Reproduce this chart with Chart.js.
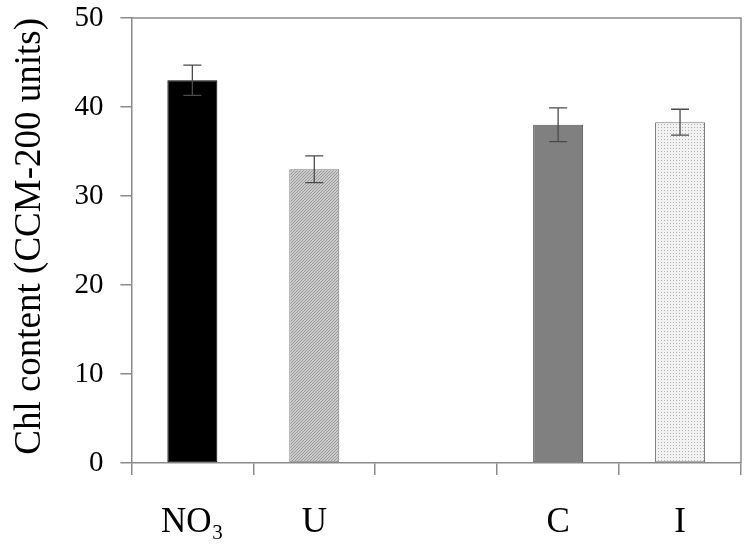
<!DOCTYPE html>
<html>
<head>
<meta charset="utf-8">
<script src="https://cdn.jsdelivr.net/npm/chart.js@4/dist/chart.umd.min.js"></script>
<style>
  html, body { margin: 0; padding: 0; background: #fff; }
  #chart { display: block; }
</style>
</head>
<body>
<canvas id="chart" width="746" height="553"></canvas>
<script>
// data
const categories = ['NO\u2083', 'U', '', 'C', 'I'];
const chlValues = [43.0, 33.0, null, 38.0, 38.3];
const chlErrors = [1.7, 1.5, null, 1.9, 1.45];
const yTicks = [0, 10, 20, 30, 40, 50];

const serif = '"Liberation Serif", "Times New Roman", serif';
const lineGray = '#8a8a8a';

// small tile patterns for the hatched / dotted bars
function makePattern(bg, fg, size, cells) {
    const c = document.createElement('canvas');
    c.width = size;
    c.height = size;
    const g = c.getContext('2d');
    g.fillStyle = bg;
    g.fillRect(0, 0, size, size);
    g.fillStyle = fg;
    cells.forEach(([x, y]) => g.fillRect(x, y, 1, 1));
    return g.createPattern(c, 'repeat');
}

const ctx = document.getElementById('chart').getContext('2d');
const hatch = makePattern('#cacaca', '#9a9a9a', 3, [[0, 2], [1, 1], [2, 0]]);
const dots = makePattern('#f2f2f2', '#b0b0b0', 3, [[1, 1]]);

// error bars, drawn through the y scale
const errorBars = {
    id: 'errorBars',
    afterDatasetsDraw(chart) {
        const meta = chart.getDatasetMeta(0);
        const y = chart.scales.y;
        const c = chart.ctx;
        c.save();
        c.strokeStyle = '#4a4a4a';
        c.lineWidth = 1.3;
        meta.data.forEach((bar, i) => {
            const v = chlValues[i];
            const e = chlErrors[i];
            if (v == null || e == null) return;
            const top = y.getPixelForValue(v + e);
            const bot = y.getPixelForValue(v - e);
            const half = 9;
            c.beginPath();
            c.moveTo(bar.x, top);
            c.lineTo(bar.x, bot);
            c.moveTo(bar.x - half, top);
            c.lineTo(bar.x + half, top);
            c.moveTo(bar.x - half, bot);
            c.lineTo(bar.x + half, bot);
            c.stroke();
        });
        c.restore();
    }
};

// top and right sides of the frame
const frame = {
    id: 'frame',
    beforeDatasetsDraw(chart) {
        const a = chart.chartArea;
        const c = chart.ctx;
        c.save();
        c.strokeStyle = lineGray;
        c.lineWidth = 1.5;
        c.beginPath();
        c.moveTo(a.left, a.top);
        c.lineTo(a.right, a.top);
        c.lineTo(a.right, a.bottom);
        c.stroke();
        c.restore();
    }
};

new Chart(ctx, {
    type: 'bar',
    data: {
        labels: categories,
        datasets: [{
            data: chlValues,
            backgroundColor: ['#000000', hatch, '#fff', '#808080', dots],
            borderColor: ['#000000', '#777', '#fff', '#555', '#777'],
            borderWidth: 1,
            borderSkipped: false,
            categoryPercentage: 1,
            barPercentage: 0.41
        }]
    },
    options: {
        responsive: false,
        animation: false,
        layout: { padding: { top: 18, right: 5, bottom: -18, left: 0 } },
        plugins: {
            legend: { display: false },
            tooltip: { enabled: false }
        },
        scales: {
            x: {
                grid: {
                    offset: true,
                    drawOnChartArea: false,
                    tickLength: 12,
                    color: lineGray,
                    lineWidth: 1.5
                },
                border: { color: lineGray, width: 1.5 },
                ticks: {
                    color: '#000',
                    padding: 27,
                    maxRotation: 0,
                    font: { family: serif, size: 35 }
                }
            },
            y: {
                min: 0,
                max: 50,
                afterBuildTicks(axis) {
                    axis.ticks = yTicks.map(v => ({ value: v }));
                },
                // the tick padding should not push the plot down from the top
                afterFit(axis) {
                    axis.paddingTop = 0;
                },
                grid: {
                    drawOnChartArea: false,
                    tickLength: 11,
                    color: lineGray,
                    lineWidth: 1.5
                },
                border: { color: lineGray, width: 1.5 },
                ticks: {
                    color: '#000',
                    padding: 17,
                    font: { family: serif, size: 29 }
                },
                title: {
                    display: true,
                    text: 'Chl content (CCM-200 units)',
                    align: 'end',
                    color: '#000',
                    padding: { top: 8, bottom: 5 },
                    font: { family: serif, size: 37 }
                }
            }
        }
    },
    plugins: [frame, errorBars]
});
</script>
</body>
</html>
